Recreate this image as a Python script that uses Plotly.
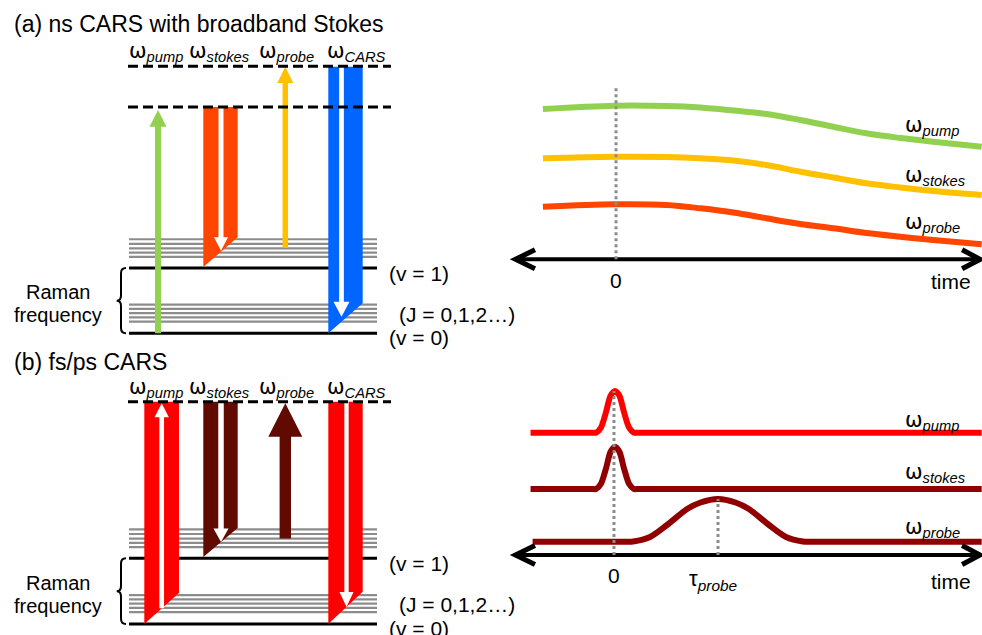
import plotly.graph_objects as go

# ---------------- data ----------------
# Energy levels in units of the vibrational quantum (v=0 -> 0, v=1 -> 1)
vib_levels = [0.0, 1.0]
rot_levels_v0 = [0.18, 0.245, 0.31, 0.375, 0.44]
rot_levels_v1 = [1.17, 1.235, 1.30, 1.37, 1.44]
virtual_levels_a = [3.465, 4.09]
virtual_levels_b = [3.384]
level_labels = ["(v = 0)", "(v = 1)", "(J = 0,1,2…)"]
beam_labels = ["pump", "stokes", "probe", "CARS"]

# Panel (a) transitions (energies)
pump_a = [0.0, 3.42]                    # from, to
stokes_a = [3.465, 1.015, 1.47, 1.265]  # top, bottom-left, bottom-right, white tip
probe_a = [1.31, 4.083]                 # from, to
cars_a = [4.083, 0.0, 0.46, 0.254]      # top, bottom-left, bottom-right, white tip

# Panel (b) transitions (energies)
pump_b = [3.384, 0.0, 0.47, 0.24, 3.36]  # top, bottom-left, bottom-right, white from, white tip
stokes_b = [3.384, 1.02, 1.46, 1.25]
probe_b = [1.30, 3.36]
cars_b = [3.384, 0.0, 0.49, 0.26]

# Panel (a) right: chirped frequencies vs time
time_a = [-0.70, 0.0, 0.5, 0.83, 1.15, 1.47, 1.8, 2.12, 2.44, 2.77, 3.09, 3.56]
pump_freq_a = [15.03, 15.36, 15.33, 15.18, 14.88, 14.53, 13.93, 13.26, 12.60, 12.13, 11.76, 11.26]
stokes_freq_a = [10.10, 10.26, 10.23, 10.10, 9.88, 9.43, 8.76, 8.18, 7.60, 7.18, 6.83, 6.43]
probe_freq_a = [5.26, 5.50, 5.43, 5.10, 4.68, 4.10, 3.53, 3.10, 2.63, 2.26, 1.93, 1.50]

# Panel (b) right: pulses vs time
time_short = [-0.82, -0.5, -0.3, -0.22, -0.184, -0.136, -0.087, -0.044, 0.0,
              0.044, 0.087, 0.136, 0.184, 0.22, 0.3, 0.5, 1.0, 2.0, 3.56]
pump_pulse_b = [12.23, 12.23, 12.23, 12.23, 12.23, 12.75, 14.3, 15.9, 16.4,
                15.9, 14.3, 12.75, 12.23, 12.23, 12.23, 12.23, 12.23, 12.23, 12.23]
stokes_pulse_b = [6.6, 6.6, 6.6, 6.6, 6.6, 7.12, 8.67, 10.3, 10.83,
                  10.3, 8.67, 7.12, 6.6, 6.6, 6.6, 6.6, 6.6, 6.6, 6.6]
time_probe = [-0.80, -0.3, 0.0, 0.1, 0.175, 0.34, 0.505, 0.70, 0.83, 1.0,
              1.17, 1.30, 1.495, 1.66, 1.825, 1.9, 2.0, 2.3, 3.0, 3.56]
probe_pulse_b = [1.33, 1.33, 1.33, 1.33, 1.35, 1.8, 3.0, 4.6, 5.25, 5.6,
                 5.25, 4.6, 3.0, 1.8, 1.35, 1.33, 1.33, 1.33, 1.33, 1.33]
tau_probe = 1.0

# ---------------- style / layout ----------------
FONT = "Arial, Liberation Sans, sans-serif"
GREEN = "#92D050"
YELLOW = "#FFC000"
ORANGE = "#FF4500"
BLUE = "#0066FF"
RED = "#FF0000"
MAROON = "#600A00"
DARKRED = "#900000"
GRAY = "#8C8C8C"

W, H = 982, 635
SCALE_A = 65.3   # px per energy unit, panel a
SCALE_B = 65.7   # px per energy unit, panel b
LEVEL_X = (129, 377)
DASH_X = (128, 391)

fig = go.Figure()
shapes = []
annotations = []


def poly(pts, yref, color, xref="x"):
    path = "M " + " L ".join(f"{x:.3f},{y:.4f}" for x, y in pts) + " Z"
    shapes.append(dict(type="path", xref=xref, yref=yref, path=path,
                       fillcolor=color, line=dict(width=0), layer="above"))


def arrow(xc, y_from, y_tip, shaft_px, head_w_px, head_len_px, scale, yref, color):
    sgn = 1 if y_tip > y_from else -1
    base = y_tip - sgn * head_len_px / scale
    s = shaft_px / 2
    h = head_w_px / 2
    pts = [(xc - s, y_from), (xc + s, y_from), (xc + s, base), (xc + h, base),
           (xc, y_tip), (xc - h, base), (xc - s, base)]
    poly(pts, yref, color)


def band(xl, xr, top, bl, br, yref, color):
    poly([(xl, top), (xr, top), (xr, br), (xl, bl)], yref, color)


def levels_trace(yref_name, values, color, width):
    xs, ys = [], []
    for v in values:
        xs += [LEVEL_X[0], LEVEL_X[1], None]
        ys += [v, v, None]
    fig.add_trace(go.Scatter(x=xs, y=ys, xaxis="x", yaxis=yref_name, mode="lines",
                             line=dict(color=color, width=width), hoverinfo="skip",
                             showlegend=False))


def text(x, y, s, size, xref="x", yref="y", xanchor="center", yshift=0):
    annotations.append(dict(x=x, y=y, xref=xref, yref=yref, text=s, showarrow=False,
                            xanchor=xanchor, yanchor="middle", yshift=yshift,
                            font=dict(family=FONT, size=size, color="black")))


def omega(name):
    return (f"<span style=\"font-family:'DejaVu Sans'\">ω</span>"
            f"<sub><i>{name}</i></sub>")


def brace(x_end, x_spine, x_tip, lo, hi, yref, dE):
    mid = (lo + hi) / 2
    path = (f"M {x_end},{hi} Q {x_spine},{hi} {x_spine},{hi - dE} "
            f"L {x_spine},{mid + dE} Q {x_spine},{mid} {x_tip},{mid} "
            f"Q {x_spine},{mid} {x_spine},{mid - dE} "
            f"L {x_spine},{lo + dE} Q {x_spine},{lo} {x_end},{lo}")
    shapes.append(dict(type="path", xref="x", yref=yref, path=path,
                       line=dict(color="black", width=2)))


# ---------- left energy diagrams ----------
for yref_name in ("y", "y2"):
    levels_trace(yref_name, rot_levels_v0 + rot_levels_v1, GRAY, 2.2)
    levels_trace(yref_name, vib_levels, "black", 3)

# panel (a)
arrow(158, pump_a[0], pump_a[1], 6, 17, 16.7, SCALE_A, "y", GREEN)
band(203.3, 237.7, stokes_a[0], stokes_a[1], stokes_a[2], "y", ORANGE)
arrow(221, stokes_a[0], stokes_a[3], 5, 14, 13.4, SCALE_A, "y", "white")
arrow(285.3, probe_a[0], probe_a[1], 5.5, 16, 16.3, SCALE_A, "y", YELLOW)
band(328.3, 362.7, cars_a[0], cars_a[1], cars_a[2], "y", BLUE)
arrow(341.5, cars_a[0], cars_a[3], 4.7, 16, 15, SCALE_A, "y", "white")
for v in virtual_levels_a:
    shapes.append(dict(type="line", xref="x", yref="y", x0=DASH_X[0], x1=DASH_X[1], y0=v, y1=v,
                       line=dict(color="black", width=3, dash="10px,5px")))

# panel (b)
band(144.3, 179, pump_b[0], pump_b[1], pump_b[2], "y2", RED)
arrow(161.7, pump_b[3], pump_b[4], 4.7, 14.3, 14, SCALE_B, "y2", "white")
band(203.3, 237.7, stokes_b[0], stokes_b[1], stokes_b[2], "y2", MAROON)
arrow(221, stokes_b[0], stokes_b[3], 5.5, 15, 13.4, SCALE_B, "y2", "white")
arrow(285.3, probe_b[0], probe_b[1], 11.4, 34, 33.4, SCALE_B, "y2", MAROON)
band(328.3, 362.7, cars_b[0], cars_b[1], cars_b[2], "y2", RED)
arrow(346.5, cars_b[0], cars_b[3], 4.3, 14, 15, SCALE_B, "y2", "white")
for v in virtual_levels_b:
    shapes.append(dict(type="line", xref="x", yref="y2", x0=DASH_X[0], x1=DASH_X[1], y0=v, y1=v,
                       line=dict(color="black", width=3, dash="10px,5px")))

# braces
brace(126, 121, 116.7, vib_levels[0], vib_levels[1], "y", 0.08)
brace(126, 121, 116.7, vib_levels[0], vib_levels[1], "y2", 0.08)

# beam labels above diagrams
label_x = [155.5, 219, 286.7, 356.7]
for lx, nm in zip(label_x, beam_labels):
    text(lx, virtual_levels_a[1], omega(nm), 21, yref="y", yshift=14)
    text(lx, virtual_levels_b[0], omega(nm), 21, yref="y2", yshift=14)

# level labels
for yref in ("y", "y2"):
    text(387.3, vib_levels[1], level_labels[1], 21, yref=yref, xanchor="left", yshift=-5)
    text(396.7, sum(rot_levels_v0) / len(rot_levels_v0), level_labels[2], 21, yref=yref,
         xanchor="left", yshift=-1)
    text(387.3, vib_levels[0], level_labels[0], 21, yref=yref, xanchor="left", yshift=-4)
    text(57.7, 0.5, "Raman", 20, yref=yref, yshift=8.5)
    text(57.7, 0.5, "frequency", 20, yref=yref, yshift=-14.5)

# titles
text(11.7 / W, 1 - 24 / H, "(a) ns CARS with broadband Stokes", 23, xref="paper", yref="paper",
     xanchor="left")
text(11.7 / W, 1 - 361.7 / H, "(b) fs/ps CARS", 23, xref="paper", yref="paper", xanchor="left")

# ---------- right time plots ----------
for ys, col in ((pump_freq_a, GREEN), (stokes_freq_a, YELLOW), (probe_freq_a, ORANGE)):
    fig.add_trace(go.Scatter(x=time_a, y=ys, xaxis="x3", yaxis="y3", mode="lines",
                             line=dict(color=col, width=6, shape="spline", smoothing=1.0),
                             hoverinfo="skip", showlegend=False))
fig.add_trace(go.Scatter(x=time_short, y=pump_pulse_b, xaxis="x3", yaxis="y4", mode="lines",
                         line=dict(color=RED, width=6, shape="spline", smoothing=0.7),
                         hoverinfo="skip", showlegend=False))
fig.add_trace(go.Scatter(x=time_short, y=stokes_pulse_b, xaxis="x3", yaxis="y4", mode="lines",
                         line=dict(color=DARKRED, width=6, shape="spline", smoothing=0.7),
                         hoverinfo="skip", showlegend=False))
fig.add_trace(go.Scatter(x=time_probe, y=probe_pulse_b, xaxis="x3", yaxis="y4", mode="lines",
                         line=dict(color=DARKRED, width=6, shape="spline", smoothing=0.8),
                         hoverinfo="skip", showlegend=False))

# time axes (double-headed)
for yref in ("y3", "y4"):
    shapes.append(dict(type="line", xref="x3", yref=yref, x0=-0.96, x1=3.535, y0=0, y1=0,
                       line=dict(color="black", width=4)))
    shapes.append(dict(type="path", xref="x3", yref=yref,
                       path="M -0.777,0.95 L -0.966,0 L -0.777,-0.95",
                       line=dict(color="black", width=5)))
    shapes.append(dict(type="path", xref="x3", yref=yref,
                       path="M 3.37,0.95 L 3.545,0 L 3.37,-0.95",
                       line=dict(color="black", width=5)))

# dotted markers
shapes.append(dict(type="line", xref="x3", yref="y3", x0=0.01, x1=0.01, y0=0, y1=17.1,
                   line=dict(color=GRAY, width=3, dash="dot")))
shapes.append(dict(type="line", xref="x3", yref="y4", x0=-0.01, x1=-0.01, y0=0, y1=max(pump_pulse_b),
                   line=dict(color=GRAY, width=3, dash="dot")))
shapes.append(dict(type="line", xref="x3", yref="y4", x0=tau_probe, x1=tau_probe, y0=0,
                   y1=max(probe_pulse_b), line=dict(color=GRAY, width=3, dash="dot")))

# right labels
for lab, (tx, fy) in zip(beam_labels[:3], [(3.075, 13.3), (3.107, 8.3), (3.084, 3.6)]):
    text(tx, fy, omega(lab), 21, xref="x3", yref="y3")
for lab, (tx, fy) in zip(beam_labels[:3], [(3.075, 13.37), (3.107, 8.2), (3.084, 2.7)]):
    text(tx, fy, omega(lab), 21, xref="x3", yref="y4")
text(0.01, -2.07, "0", 21, xref="x3", yref="y3")
text(3.26, -2.24, "time", 21, xref="x3", yref="y3")
text(-0.01, -2.0, "0", 21, xref="x3", yref="y4")
text(3.26, -2.67, "time", 21, xref="x3", yref="y4")
text(0.954, -2.5, "τ<sub><i>probe</i></sub>", 22, xref="x3", yref="y4")

fig.update_layout(
    width=W, height=H,
    margin=dict(l=0, r=0, t=0, b=0),
    paper_bgcolor="white", plot_bgcolor="white",
    showlegend=False,
    xaxis=dict(range=[0, W], domain=[0, 1], visible=False, fixedrange=True),
    yaxis=dict(range=[(333.3 - H) / SCALE_A, 333.3 / SCALE_A], domain=[0, 1],
               visible=False, fixedrange=True),
    yaxis2=dict(range=[(624 - H) / SCALE_B, 624 / SCALE_B], overlaying="y",
                visible=False, fixedrange=True),
    xaxis3=dict(range=[-615 / 103, (W - 615) / 103], overlaying="x", anchor="y3",
                visible=False, fixedrange=True),
    yaxis3=dict(range=[(259.3 - H) / 10, 259.3 / 10], overlaying="y", anchor="x3",
                visible=False, fixedrange=True),
    yaxis4=dict(range=[(555 - H) / 10, 555 / 10], overlaying="y", anchor="x3",
                visible=False, fixedrange=True),
    shapes=shapes,
    annotations=annotations,
)

fig.write_html("out.html", config={"displayModeBar": False},
               post_script="document.body.style.margin='0px';document.body.style.overflow='hidden';")
